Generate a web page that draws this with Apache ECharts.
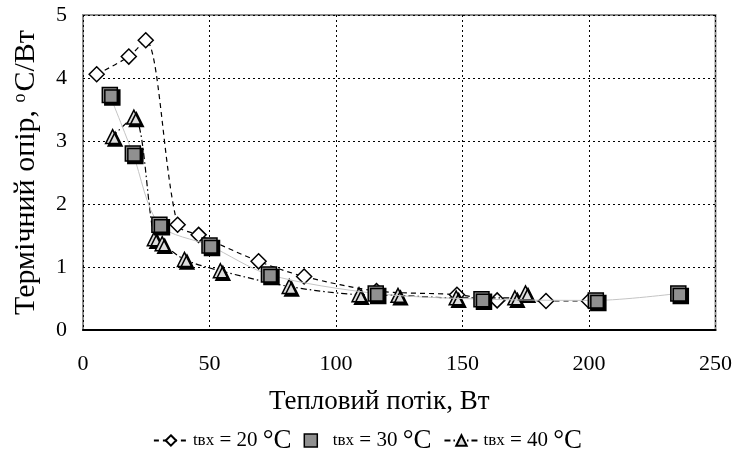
<!DOCTYPE html>
<html>
<head>
<meta charset="utf-8">
<script src="https://cdn.jsdelivr.net/npm/echarts@6/dist/echarts.min.js"></script>
<style>
  html, body { margin: 0; padding: 0; background: #fff; }
  #chart { width: 735px; height: 456px; }
</style>
</head>
<body>
<div id="chart"></div>
<script>
// tвх = 20 °C
var q20 = [5.4, 18.1, 24.8, 37.4, 45.7, 69.4, 87.4, 116, 147.8, 163.7, 183, 200];
var r20 = [4.06, 4.34, 4.6, 1.67, 1.51, 1.09, 0.85, 0.62, 0.56, 0.47, 0.46, 0.46];
// tвх = 30 °C
var q30 = [10.6, 19.7, 30.2, 50, 73.5, 115.7, 157.5, 202.7, 235.3];
var r30 = [3.73, 2.8, 1.67, 1.34, 0.88, 0.58, 0.49, 0.47, 0.58];
// tвх = 40 °C
var q40 = [11.7, 20.1, 28.2, 31.3, 40.1, 54.3, 81.5, 109.1, 124.5, 147.5, 170.7, 174.9];
var r40 = [3.07, 3.38, 1.45, 1.37, 1.12, 0.94, 0.69, 0.56, 0.55, 0.51, 0.51, 0.59];

var names = ['20', '30', '40'];

function pairs(xs, ys) {
  return xs.map(function (x, i) { return [x, ys[i]]; });
}

var serif = 'Liberation Serif';
var chart = echarts.init(document.getElementById('chart'));

var option = {
  animation: false,
  textStyle: { fontFamily: serif, color: '#000' },
  grid: {
    left: 83, right: 17, top: 15, bottom: 126,
    show: true, borderColor: '#8c8c8c', borderWidth: 2
  },
  legend: {
    top: 422,
    left: 'center',
    itemGap: 12,
    itemWidth: 34,
    itemHeight: 13,
    data: [
      { name: names[0] },
      { name: names[1], icon: 'path://M0,0H10V10H0Z', itemStyle: { color: '#909090', borderColor: '#000', borderWidth: 1.5 } },
      { name: names[2] }
    ],
    formatter: function (n) {
      return '{t|tвх}{a| = ' + n + ' }{b|°C}';
    },
    textStyle: {
      fontFamily: serif,
      rich: {
        t: { fontFamily: serif, fontSize: 17, color: '#000' },
        a: { fontFamily: serif, fontSize: 21, color: '#000' },
        b: { fontFamily: serif, fontSize: 27, color: '#000' }
      }
    }
  },
  xAxis: {
    type: 'value', min: 0, max: 250, interval: 50,
    name: 'Тепловий потік, Вт',
    nameLocation: 'middle', nameGap: 58,
    nameTextStyle: { fontFamily: serif, fontSize: 27, color: '#000', padding: [0, 40, 0, 0] },
    axisLine: { show: true, lineStyle: { color: '#000', width: 2 } },
    axisTick: { show: false },
    axisLabel: { fontFamily: serif, fontSize: 22, color: '#000', margin: 23 },
    splitLine: { show: true, lineStyle: { color: '#000', type: [2, 3], width: 1 } }
  },
  yAxis: {
    type: 'value', min: 0, max: 5, interval: 1,
    name: '{n|Термічний опір, }{s|o}{n|С/Вт}',
    nameLocation: 'middle', nameGap: 42,
    nameTextStyle: {
      fontFamily: serif, fontSize: 30, color: '#000',
      rich: {
        n: { fontFamily: serif, fontSize: 30, color: '#000' },
        s: { fontFamily: serif, fontSize: 18, color: '#000', verticalAlign: 'top', padding: [0, 2, 12, 0] }
      }
    },
    axisLine: { show: false },
    axisTick: { show: false },
    axisLabel: { fontFamily: serif, fontSize: 22, color: '#000', margin: 16 },
    splitLine: { show: true, lineStyle: { color: '#000', type: [2, 3], width: 1 } }
  },
  series: [
    {
      name: names[0], type: 'line', smooth: 0.3,
      data: pairs(q20, r20),
      symbol: 'diamond', symbolSize: [15, 15],
      lineStyle: { color: '#000', width: 1.2, type: [5, 4] },
      itemStyle: { color: '#fff', borderColor: '#000', borderWidth: 1.5 },
      z: 2
    },
    {
      name: names[1], type: 'line', smooth: 0.3,
      data: pairs(q30, r30),
      symbol: 'rect', symbolSize: 15,
      lineStyle: { color: '#c4c4c4', width: 1 },
      itemStyle: {
        color: '#909090', borderColor: '#000', borderWidth: 1.5,
        shadowColor: '#000', shadowBlur: 0, shadowOffsetX: 2.5, shadowOffsetY: 2.5
      },
      z: 4
    },
    {
      name: names[2], type: 'line', smooth: 0.3,
      data: pairs(q40, r40),
      symbol: 'triangle', symbolSize: [14, 14],
      lineStyle: { color: '#000', width: 1.2, type: [6, 3, 1.5, 3] },
      itemStyle: {
        color: '#dcdcdc', borderColor: '#000', borderWidth: 1.5,
        shadowColor: '#000', shadowBlur: 0, shadowOffsetX: 2.5, shadowOffsetY: 2.5
      },
      z: 3
    }
  ]
};

chart.setOption(option);
</script>
</body>
</html>
